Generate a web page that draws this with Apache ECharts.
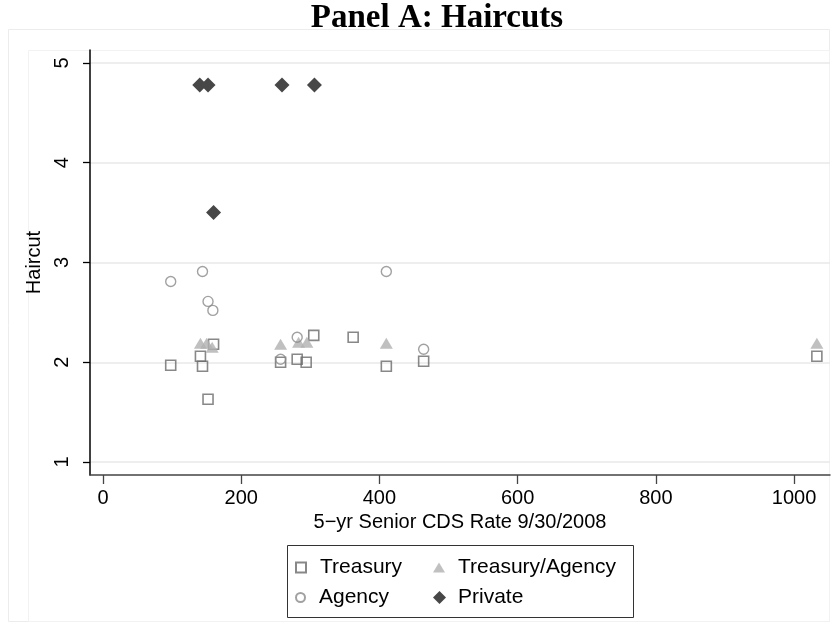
<!DOCTYPE html>
<html>
<head>
<meta charset="utf-8">
<title>Panel A: Haircuts</title>
<script src="https://cdn.jsdelivr.net/npm/echarts@6/dist/echarts.min.js"></script>
<style>
  html, body { margin: 0; padding: 0; background: #fff; }
  #chart { width: 840px; height: 641px; }
</style>
</head>
<body>
<div id="chart"></div>
<script>
// [CDS rate, haircut]
var treasury = [
  [98, 1.97], [141, 2.06], [144, 1.96], [152, 1.63], [160, 2.18],
  [257, 2.0], [281, 2.03], [294, 2.0], [305, 2.27], [362, 2.25],
  [410, 1.96], [464, 2.01], [1033, 2.06]
];
var treasuryAgency = [
  [141, 2.19], [150, 2.19], [158, 2.15], [257, 2.18], [283, 2.2],
  [295, 2.2], [410, 2.19], [1033, 2.19]
];
var agency = [
  [98, 2.81], [144, 2.91], [152, 2.61], [159, 2.52], [257, 2.03],
  [281, 2.25], [410, 2.91], [464, 2.13]
];
var privateSec = [
  [140, 4.78], [152, 4.78], [259, 4.78], [306, 4.78], [160, 3.5]
];
var xTicks = [0, 200, 400, 600, 800, 1000];
var yTicks = [1, 2, 3, 4, 5];

var font = "Liberation Sans";
var myChart = echarts.init(document.getElementById("chart"));

function legendAt(name, left, top, w, h, pad) {
  return {
    data: [name],
    left: left,
    top: top,
    orient: "horizontal",
    padding: 0,
    itemGap: 0,
    itemWidth: w,
    itemHeight: h,
    selectedMode: false,
    textStyle: { fontFamily: font, fontSize: 21, color: "#000", padding: [0, 0, 0, pad] }
  };
}

var option = {
  animation: false,
  backgroundColor: "#fff",
  title: {
    text: "Panel A: Haircuts",
    left: 432,
    top: -3,
    textAlign: "center",
    textStyle: {
      fontFamily: "Liberation Serif",
      fontWeight: "bold",
      fontSize: 33,
      color: "#000"
    }
  },
  graphic: [
    {
      type: "rect",
      shape: { x: 8.5, y: 29.5, width: 821, height: 592 },
      style: { fill: "none", stroke: "#ececec", lineWidth: 1 },
      z: -1
    },
    {
      type: "rect",
      shape: { x: 28.5, y: 50.5, width: 801, height: 571 },
      style: { fill: "none", stroke: "#f2f2f2", lineWidth: 1 },
      z: -1
    },
    // legend box
    {
      type: "rect",
      shape: { x: 287.5, y: 545.5, width: 346, height: 72 },
      style: { fill: "#fff", stroke: "#333", lineWidth: 1 },
      z: 1
    }
  ],
  legend: [
    legendAt("Treasury", 295, 557, 10, 10, 9),
    legendAt("Treasury/Agency", 433, 557, 12, 10, 8),
    legendAt("Agency", 295, 587, 9, 9, 9),
    legendAt("Private", 433, 587, 13, 13, 7)
  ],
  grid: {
    left: 90,
    right: 10,
    top: 50,
    bottom: 166
  },
  xAxis: {
    type: "value",
    min: -18.8,
    max: 1052,
    name: "5\u2212yr Senior CDS Rate 9/30/2008",
    nameLocation: "middle",
    nameGap: 31,
    nameTextStyle: { fontFamily: font, fontSize: 20, color: "#000" },
    axisLine: { onZero: false, lineStyle: { color: "#444", width: 1.5 } },
    axisTick: { show: true, length: 9, customValues: xTicks, lineStyle: { color: "#444", width: 1.3 } },
    axisLabel: {
      customValues: xTicks,
      margin: 13,
      fontFamily: font,
      fontSize: 20,
      color: "#000",
      formatter: function (v) { return String(v); }
    },
    splitLine: { show: false }
  },
  yAxis: {
    type: "value",
    min: 0.87,
    max: 5.13,
    name: "Haircut",
    nameLocation: "middle",
    nameGap: 40,
    nameRotate: 90,
    nameTextStyle: { fontFamily: font, fontSize: 20, color: "#000" },
    axisLine: { show: true, onZero: false, lineStyle: { color: "#000", width: 1.5 } },
    axisTick: { show: true, length: 7, customValues: yTicks, lineStyle: { color: "#000", width: 1.3 } },
    axisLabel: { customValues: yTicks, rotate: 90, margin: 18, fontFamily: font, fontSize: 20, color: "#000" },
    splitLine: { show: true, lineStyle: { color: "#e9e9e9", width: 1.5 } }
  },
  series: [
    {
      name: "Treasury",
      type: "scatter",
      symbol: "rect",
      symbolSize: 10,
      itemStyle: { color: "rgba(255,255,255,0)", borderColor: "#6a6a6a", borderWidth: 1.6 },
      data: treasury
    },
    {
      name: "Treasury/Agency",
      type: "scatter",
      symbol: "triangle",
      symbolSize: [13, 11],
      itemStyle: { color: "#b0b0b0" },
      data: treasuryAgency
    },
    {
      name: "Agency",
      type: "scatter",
      symbol: "circle",
      symbolSize: 10,
      itemStyle: { color: "rgba(255,255,255,0)", borderColor: "#8a8a8a", borderWidth: 1.4 },
      data: agency
    },
    {
      name: "Private",
      type: "scatter",
      symbol: "diamond",
      symbolSize: [15, 15],
      itemStyle: { color: "#474747", opacity: 1 },
      data: privateSec
    }
  ]
};

myChart.setOption(option);
</script>
</body>
</html>
